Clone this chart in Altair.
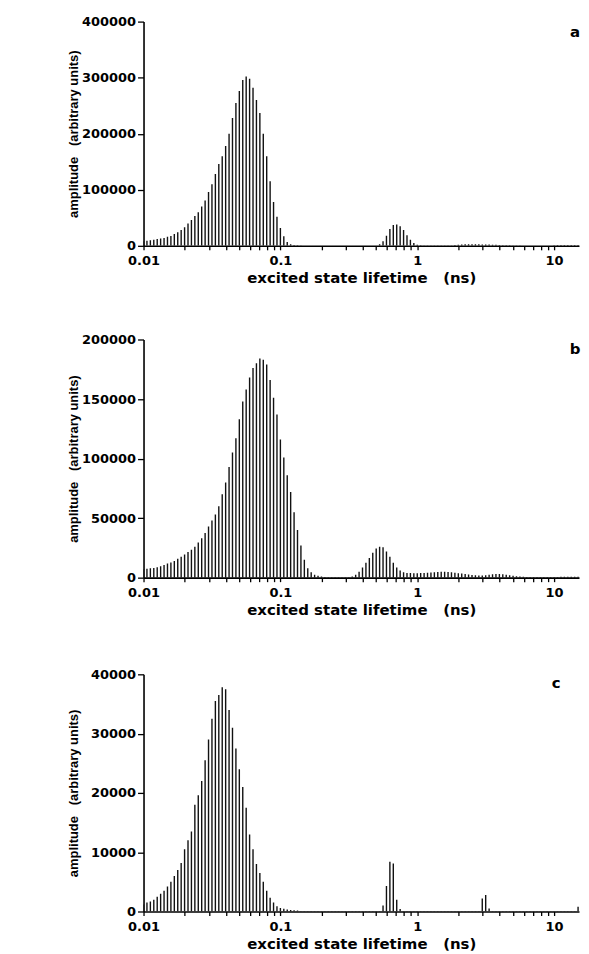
import altair as alt
import pandas as pd

# lifetime grid: log-spaced, 40 points per decade starting at 0.01 ns
STEPS_PER_DECADE = 40
TAU_START = 0.01
N_POINTS = 130

# amplitudes (arbitrary units)
amp_a = [8000, 9000, 10000, 11000, 12000, 13000, 14000, 16000, 17500, 21000,
         24000, 28000, 33000, 40000, 46000, 53000, 60000, 70000, 81000, 96000,
         110000, 128000, 146000, 160000, 178000, 200000, 228000, 255000, 276000, 296000,
         302000, 298000, 282000, 260000, 237000, 200000, 160000, 115000, 78000, 52000,
         32000, 17000, 7000, 3000, 1500, 800, 500, 300, 300, 300,
         300, 300, 300, 300, 300, 300, 300, 300, 300, 300,
         300, 300, 300, 300, 300, 300, 300, 300, 300, 3000,
         8000, 18000, 30000, 37000, 38000, 35000, 28000, 19000, 11000, 5000,
         2000, 800, 500, 500, 500, 500, 500, 500, 500, 500,
         500, 1500, 2000, 2500, 3000, 3000, 3000, 3000, 2800, 2500,
         2500, 2200, 2000, 1800, 1500, 1200, 1000, 800, 600, 500,
         400, 300, 300, 300, 300, 300, 300, 300, 300, 300,
         1200, 1500, 1500, 1500, 1500, 1500, 1500, 1500, 1500, 1500]

amp_b = [7000, 7500, 7800, 8200, 8700, 9500, 10700, 11800, 12800, 14000,
         15800, 17500, 19500, 21500, 23500, 26000, 29500, 33000, 37500, 43000,
         48000, 53000, 60000, 70000, 80000, 93000, 105000, 117000, 133000, 148000,
         158000, 168000, 176000, 180000, 184000, 183000, 179000, 166000, 151000, 137000,
         116000, 101000, 86000, 72000, 55000, 40000, 27000, 15000, 8000, 4500,
         2500, 1500, 900, 600, 300, 300, 300, 300, 300, 300,
         300, 1000, 2500, 5000, 8500, 12500, 16500, 21000, 24500, 26000,
         25500, 22000, 17500, 12500, 8500, 6000, 4500, 4000, 4000, 3800,
         3800, 3900, 4000, 4200, 4400, 4600, 4800, 5000, 5000, 4800,
         4500, 4200, 3800, 3400, 3000, 2600, 2300, 2000, 1800, 1800,
         2000, 2400, 2800, 3000, 3000, 2800, 2400, 2000, 1600, 1200,
         900, 700, 600, 500, 500, 500, 500, 500, 500, 500,
         500, 600, 700, 800, 800, 800, 800, 800, 800, 800]

amp_c = [1200, 1500, 1700, 2000, 2500, 3000, 3500, 4200, 5000, 6000,
         7000, 8200, 10500, 12000, 13500, 18000, 19600, 22000, 25500, 29000,
         32500, 35500, 36500, 37800, 37500, 34000, 31000, 27500, 24000, 21000,
         17500, 13000, 10500, 8000, 6500, 5000, 3500, 2300, 1500, 900,
         600, 450, 350, 250, 200, 150, 100, 100, 100, 100,
         100, 100, 100, 100, 100, 100, 100, 100, 100, 100,
         100, 100, 100, 100, 100, 100, 100, 100, 100, 100,
         1000, 4300, 8400, 8100, 2000, 400, 100, 100, 100, 100,
         100, 100, 100, 100, 100, 100, 100, 100, 100, 100,
         100, 100, 100, 100, 100, 100, 100, 100, 100, 2200,
         2800, 500, 100, 100, 100, 100, 100, 100, 100, 100,
         100, 100, 100, 100, 100, 100, 100, 100, 100, 100,
         100, 100, 100, 100, 100, 100, 100, 800, 1500, 1200]

panel_letters = ["a", "b", "c"]
y_max = [400000, 200000, 40000]
y_step = [100000, 50000, 10000]
panel_heights = [225, 239, 238]

x_ticks = [0.01, 0.02, 0.03, 0.04, 0.05, 0.06, 0.07, 0.08, 0.09,
           0.1, 0.2, 0.3, 0.4, 0.5, 0.6, 0.7, 0.8, 0.9,
           1, 2, 3, 4, 5, 6, 7, 8, 9, 10]
x_domain = [0.01, 15.2]

taus = [TAU_START * 10 ** (i / STEPS_PER_DECADE) for i in range(N_POINTS)]

FONT = "DejaVu Sans"
NARROW = "Liberation Sans Narrow, Liberation Sans"
W = 437
NB = "\u00a0"


def panel(amps, ymax, ystep, letter, h, letter_x, letter_y):
    df = pd.DataFrame({"tau": taus, "amp": amps, "zero": [0] * len(taus)})
    rules = alt.Chart(df).mark_rule(color="#111111", strokeWidth=1.4, clip=True).encode(
        x=alt.X("tau:Q",
                scale=alt.Scale(type="log", domain=x_domain, nice=False),
                axis=alt.Axis(values=x_ticks,
                              labelExpr="datum.value == 0.01 ? '0.01' : datum.value == 0.1 ? '0.1' : datum.value == 1 ? '1' : datum.value == 10 ? '10' : ''",
                              labelOverlap=False, labelFlush=False,
                              tickSize=4, labelPadding=5,
                              title="excited state lifetime" + NB * 3 + "(ns)",
                              titleFont=FONT, titleFontSize=15, titleFontWeight="bold",
                              titlePadding=3)),
        y=alt.Y("amp:Q",
                scale=alt.Scale(domain=[0, ymax], nice=False),
                axis=alt.Axis(values=list(range(0, ymax + 1, ystep)), format="d",
                              labelFlush=False, tickSize=6, labelPadding=2,
                              title="amplitude" + NB * 3 + "(arbitrary units)",
                              titleFont=NARROW, titleFontSize=13, titleFontWeight="bold",
                              titleX=-63, titleY=h / 2)),
        y2=alt.Y2("zero:Q"),
    )
    lab = alt.Chart(pd.DataFrame({"label": [letter]})).mark_text(
        font=FONT, fontSize=15, fontWeight="bold", color="black",
        align="center", baseline="middle"
    ).encode(x=alt.value(letter_x), y=alt.value(letter_y), text="label:N")
    return alt.layer(rules, lab).properties(width=W, height=h)


pa = panel(amp_a, y_max[0], y_step[0], panel_letters[0], panel_heights[0], 433, 10)
pb = panel(amp_b, y_max[1], y_step[1], panel_letters[1], panel_heights[1], 433, 10)
pc = panel(amp_c, y_max[2], y_step[2], panel_letters[2], panel_heights[2], 414, 9)

chart = alt.vconcat(alt.vconcat(pa, pb, spacing=48), pc, spacing=51).properties(
    padding={"left": 59, "top": 6, "right": 0, "bottom": 0}
).configure_view(stroke=None).configure_axis(
    grid=False, domainColor="black", domainWidth=1.6, tickColor="black",
    tickWidth=1.3, labelColor="black", titleColor="black",
    labelFont=FONT, labelFontSize=13, labelFontWeight="bold"
)

chart.save("out.html", embed_options={"renderer": "svg", "actions": False})
